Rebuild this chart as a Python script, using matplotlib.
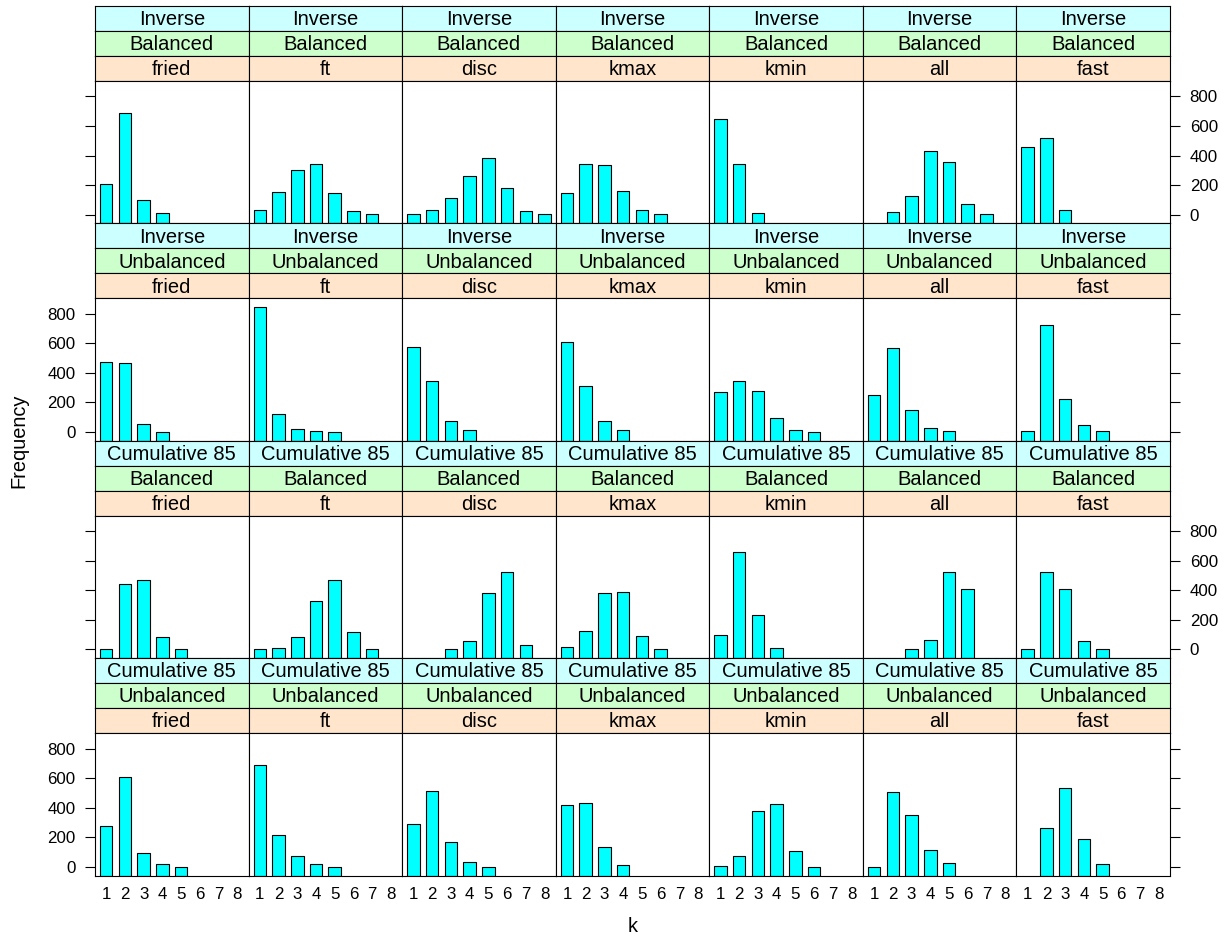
"""Lattice-style grid of barcharts: frequency of chosen k per method, model and design."""
import numpy as np
import matplotlib
matplotlib.use("Agg")
import matplotlib.pyplot as plt

plt.rcParams["font.family"] = ["Liberation Sans", "DejaVu Sans"]

nan = np.nan

K = [1, 2, 3, 4, 5, 6, 7, 8]
METHODS = ["fried", "ft", "disc", "kmax", "kmin", "all", "fast"]
MODELS = ["Inverse", "Inverse", "Cumulative 85", "Cumulative 85"]
DESIGNS = ["Balanced", "Unbalanced", "Balanced", "Unbalanced"]

# one list per method (fried, ft, disc, kmax, kmin, all, fast), counts for k = 1..8
inv_bal = [
    [207, 688, 97, 11, nan, nan, nan, nan],
    [34, 151, 304, 343, 147, 27, 3, nan],
    [7, 34, 110, 259, 385, 183, 25, 3],
    [144, 340, 336, 158, 29, 3, nan, nan],
    [649, 343, 11, nan, nan, nan, nan, nan],
    [nan, 18, 126, 428, 354, 72, 3, nan],
    [458, 516, 29, nan, nan, nan, nan, nan],
]
inv_unbal = [
    [473, 469, 56, 2, nan, nan, nan, nan],
    [845, 122, 24, 7, 2, nan, nan, nan],
    [577, 342, 72, 14, nan, nan, nan, nan],
    [606, 313, 72, 11, nan, nan, nan, nan],
    [273, 342, 281, 92, 11, 2, nan, nan],
    [248, 572, 146, 29, 4, nan, nan, nan],
    [9, 721, 221, 45, 4, nan, nan, nan],
]
cum_bal = [
    [2, 444, 471, 82, 2, nan, nan, nan],
    [2, 8, 82, 325, 467, 118, 2, nan],
    [nan, nan, 5, 59, 383, 527, 27, nan],
    [16, 124, 383, 392, 88, 2, nan, nan],
    [99, 656, 235, 12, nan, nan, nan, nan],
    [nan, nan, 3, 61, 527, 408, nan, nan],
    [3, 527, 410, 59, 3, nan, nan, nan],
]
cum_unbal = [
    [273, 611, 97, 16, 2, nan, nan, nan],
    [692, 216, 74, 16, 2, nan, nan, nan],
    [289, 516, 167, 32, 2, nan, nan, nan],
    [419, 435, 133, 14, nan, nan, nan, nan],
    [5, 74, 379, 426, 110, 2, nan, nan],
    [2, 509, 349, 113, 23, nan, nan, nan],
    [nan, 264, 534, 187, 18, nan, nan, nan],
]
FREQ = [inv_bal, inv_unbal, cum_bal, cum_unbal]
YTICKS = [0, 200, 400, 600, 800]

# layout in pixels
W, H = 1228, 938
LEFT, RIGHT, TOP = 95, 1170, 6
COL_W = (RIGHT - LEFT) / 7
STRIP_H = 25
PANEL_H = 142.4
ROW_H = 3 * STRIP_H + PANEL_H
STRIP_COLS = ["#CCFFFF", "#CCFFCC", "#FFE5CC"]
BAR_COL = "#00FFFF"
LW = 0.8


def px(x, y, w, h):
    return [x / W, 1 - (y + h) / H, w / W, h / H]


# lattice-like limits: 7% padding, bars rise from the lower limit
ymax = np.nanmax(np.array(FREQ, dtype=float))
pad = 0.07 * ymax
ylo, yhi = -pad, ymax + pad

fig = plt.figure(figsize=(W / 100, H / 100), dpi=100)

for r in range(4):
    row_top = TOP + r * ROW_H
    for c, m in enumerate(METHODS):
        x0 = LEFT + c * COL_W
        labels = [MODELS[r], DESIGNS[r], m]
        for s in range(3):
            sax = fig.add_axes(px(x0, row_top + s * STRIP_H, COL_W, STRIP_H))
            sax.set_facecolor(STRIP_COLS[s])
            sax.set_xticks([])
            sax.set_yticks([])
            for sp in sax.spines.values():
                sp.set_linewidth(LW)
            sax.text(0.5, 0.45, labels[s], ha="center", va="center",
                     fontsize=14.5, transform=sax.transAxes)

        ax = fig.add_axes(px(x0, row_top + 3 * STRIP_H, COL_W, PANEL_H))
        vals = np.array(FREQ[r][c], dtype=float)
        ks = np.array(K)
        ok = ~np.isnan(vals)
        ax.bar(ks[ok], vals[ok] - ylo, bottom=ylo, width=2 / 3,
               color=BAR_COL, edgecolor="black", linewidth=LW)
        ax.set_xlim(0.4, 8.6)
        ax.set_ylim(ylo, yhi)
        for sp in ax.spines.values():
            sp.set_linewidth(LW)

        ax.set_yticks(YTICKS)
        left_side = c == 0
        right_side = c == 6
        labels_left = r in (1, 3)
        ax.tick_params(axis="y", direction="out", length=7.2, width=LW,
                       labelsize=12.2, pad=7,
                       left=left_side, labelleft=left_side and labels_left,
                       right=right_side, labelright=right_side and not labels_left)

        ax.set_xticks(K)
        if r == 3:
            ax.set_xticklabels([str(k) for k in K])
            ax.tick_params(axis="x", length=0, labelsize=12.2, pad=8)
        else:
            ax.tick_params(axis="x", length=0, labelbottom=False)

fig.text(632.5 / W, 1 - 926 / H, "k", ha="center", va="center", fontsize=14.4)
fig.text(19 / W, 1 - 441 / H, "Frequency", ha="center", va="center",
         rotation=90, fontsize=14.4)

fig.savefig("out.png", dpi=100)
